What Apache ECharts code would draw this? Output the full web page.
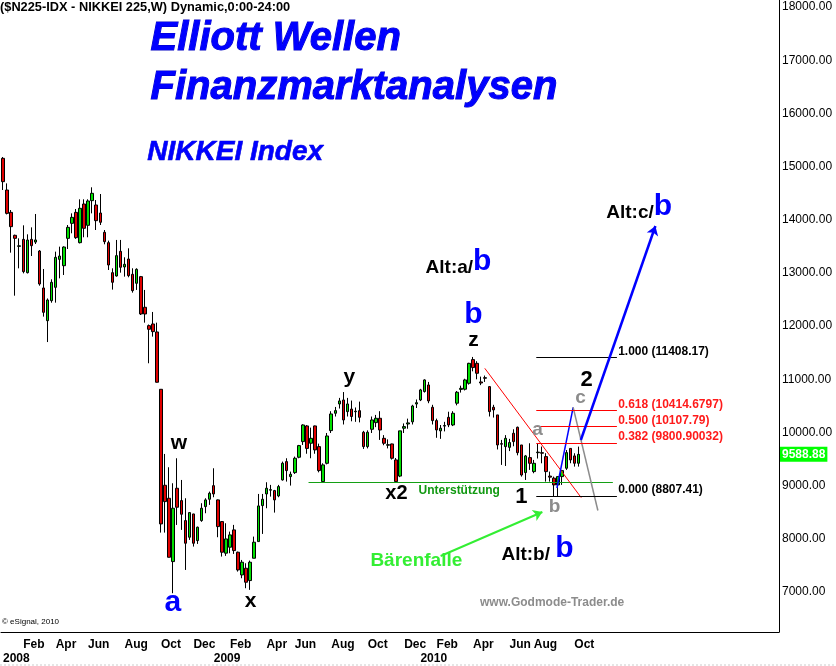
<!DOCTYPE html>
<html><head><meta charset="utf-8">
<script src="https://cdn.jsdelivr.net/npm/echarts@6/dist/echarts.min.js"></script>
<style>html,body{margin:0;padding:0;background:#fff}#c{width:836px;height:666px}</style>
</head><body><div id="c"></div>
<script>
// ---- weekly candles (index = week number from first week of Jan 2008) ----
const opens = [15155,14559,14139,13707,13500,13631,13005,13631,13580,13412,12717,12102,12478,12729,13255,13136,13650,13932,14139,13569,14296,13895,14359,14277,14127,13764,13569,13005,12943,13406,13112,13262,12974,12805,12930,12354,12009,12040,11890,10812,9007,8763,7572,8951,8719,8343,8030,8468,7967,8343,8606,8744,9000,8732,8324,7730,7842,8168,7748,7321,7447,7215,7635,7948,8625,8844,8915,8907,8807,9108,9452,9170,9245,9534,9828,10123,9797,10123,9734,9076,9420,10035,10361,10536,10611,10392,10440,10390,10410,10004,9734,10060,10185,10267,9890,9760,9784,9484,9180,10080,10160,10200,10536,10611,10770,10893,10474,10223,10030,10120,10285,10141,10550,10810,10813,10925,11370,11300,10950,11030,10862,10474,10330,9790,9734,9720,9985,10098,9765,9245,9527,9264,9620,9620,9546,9180,9140,9014,9170,9327,9700,9559,9421];
const closes = [14716,14120,13870,13650,13510,13024,13619,13512,13620,12792,12259,12491,12823,13293,13318,13487,13857,14045,13663,14215,13839,14353,14497,13983,13952,13588,13149,12824,13325,13106,13162,12949,12667,13068,12228,12228,11940,11896,10944,8280,8700,7653,8575,8594,8462,7917,8493,7917,8218,8575,8732,8857,8844,8230,7748,7998,8074,7779,7415,7560,7184,7560,7936,8619,8744,8951,8925,8732,8982,9421,9283,9214,9515,9753,10141,9700,9890,9672,9283,9390,9934,10348,10411,10593,10235,10536,10300,10400,10285,9734,10004,10235,10267,10047,9797,9770,9515,9076,10030,10110,10180,10498,10560,10800,10988,10593,10223,10047,10080,10130,10141,10361,10756,10830,10988,11300,11220,11113,10930,11020,10392,10424,9765,9780,9890,9810,9828,9620,9200,9559,9420,9420,9630,9610,9264,9160,9014,9170,9283,9621,9484,9421,9588.88];
const lows = [14559,14100,13381,12572,13086,12992,12990,13318,13544,12760,12178,11700,12440,12441,12898,12961,13450,13745,13640,13555,13670,13670,14120,13807,13901,13538,13055,12686,12930,13005,12930,12918,12629,12680,12209,12065,11301,11802,10940,8117,8117,7650,6977,8261,8168,7415,7980,7854,7904,8320,8481,8638,8782,8030,7666,7679,7729,7716,7384,7259,7071,7040,7635,7948,8092,8575,8794,8493,8782,9095,9076,9001,9220,9515,9765,9600,9515,9600,9250,9057,9400,9990,10300,10450,10150,10300,10210,10200,10190,9690,9700,9990,10100,9860,9760,9700,9490,9070,9160,9990,10070,10150,10460,10590,10750,10550,10150,9900,9880,10020,10100,10120,10510,10750,10790,10900,11150,11000,10890,10950,10300,10280,9680,9390,9370,9650,9740,9570,9170,9107,9296,9233,9510,9420,9076,9076,8795,8795,9014,9296,9421,9358,9358];
const highs = [15180,14684,14183,13720,13650,13895,13726,13857,14108,13430,13074,12520,12880,13400,13494,13500,13901,14120,14202,14384,14384,14384,14610,14371,14484,13807,13607,13087,13620,13620,13294,13463,13087,13087,12943,12680,12030,12266,12065,10812,9596,9346,9045,9515,9107,8763,8500,8470,8230,8669,8763,8888,9327,8740,8330,8293,8136,8262,7760,7603,7541,7591,8042,8844,8844,9064,9014,8920,9014,9452,9515,9264,9546,9766,10154,10140,10091,10130,9790,9420,9990,10400,10480,10650,10760,10650,10600,10470,10580,10030,10040,10300,10330,10400,9950,9870,9790,9520,10030,10170,10260,10520,10620,10820,11000,10950,10520,10260,10140,10200,10390,10400,10780,10880,11010,11310,11420,11340,11050,11070,10870,10520,10330,9860,9950,9880,10060,10110,9765,9577,9797,9484,9800,9735,9610,9264,9170,9170,9296,9670,9700,9609,9734];
const lastPrice = 9588.88;

// ---- axis tick labels ----
const monthTickIdx  = [5,13,21,30,39,47,56,65,72,81,90,99,107,116,125,131,141];
const monthTickText = ['Feb','Apr','Jun','Aug','Oct','Dec','Feb','Apr','Jun','Aug','Oct','Dec','Feb','Apr','Jun','Aug','Oct'];
const yearTickIdx  = [0,52,103];
const yearTickText = ['2008','2009','2010'];
const priceTicks = [7000,8000,9000,10000,11000,12000,13000,14000,15000,16000,17000,18000];

// ---- Fibonacci retracement ----
const fibRatios = ['1.000','0.618','0.500','0.382','0.000'];
const fibValues = [11408.17,10414.6797,10107.79,9800.90032,8807.41];
const supportLevel = 9063;

const nCats = 192;
const cats = Array.from({length:nCats},(_,i)=>String(i));
const candleData = opens.map((o,i)=>[o,closes[i],lows[i],highs[i]]);

const FONT = '"Liberation Sans", Arial, sans-serif';
const chart = echarts.init(document.getElementById('c'), null, {renderer:'canvas'});

const fibColors = ['#000','#ff0000','#ff0000','#ff0000','#000'];
const lineSegs = [
  {coords:[[75.4,supportLevel],[150.5,supportLevel]], lineStyle:{color:'#14a014',width:1,opacity:1}},
  {coords:[[118.9,11206],[142.7,8773]], lineStyle:{color:'#ff0000',width:1,opacity:1}},
  {coords:[[136.7,8956],[140.7,10473]], lineStyle:{color:'#0000ff',width:1.5,opacity:1}},
  {coords:[[140.7,10473],[146.8,8533]], lineStyle:{color:'#8c8c8c',width:1.5,opacity:1}},
].concat(fibValues.map((v,k)=>({coords:[[131.6,v],[151.5,v]], lineStyle:{color:fibColors[k],width:1,opacity:1}})));

const arrows = [
  {coords:[[142.6,9858],[161,13882]], lineStyle:{color:'#0000ff',width:2.5,opacity:1}},
  {coords:[[108.0,7677],[133.1,8504]], lineStyle:{color:'#33ee33',width:2,opacity:1}},
];

const bold = (size,color)=>({fontSize:size,fontWeight:'bold',color:color,fontFamily:FONT,opacity:1});
const textMarks = [
  {value:[116.1,12209], text:'b', st:bold(30,'#0000ff')},
  {value:[116.1,11739], text:'z', st:bold(21,'#000')},
  {value:[85.5,11043], text:'y', st:bold(21,'#000')},
  {value:[43.4,9802], text:'w', st:bold(21,'#000')},
  {value:[41.9,6793], text:'a', st:bold(30,'#0000ff')},
  {value:[61.1,6831], text:'x', st:bold(21,'#000')},
  {value:[97.1,8862], text:'x2', st:bold(20,'#000')},
  {value:[112.6,8899], text:'Unterstützung', st:bold(12,'#119911')},
  {value:[127.9,8786], text:'1', st:bold(22,'#000')},
  {value:[136.1,8598], text:'b', st:bold(19,'#8c8c8c')},
  {value:[131.9,10046], text:'a', st:bold(19,'#8c8c8c')},
  {value:[142.5,10648], text:'c', st:bold(19,'#8c8c8c')},
  {value:[144.0,10986], text:'2', st:bold(22,'#000')},
  {value:[102.0,7583], text:'Bärenfalle', st:bold(19,'#33ee33')},
];
const richAlt = {k:{fontSize:19,fontWeight:'bold',color:'#000',fontFamily:FONT,verticalAlign:'bottom'},
                 b:{fontSize:30,fontWeight:'bold',color:'#0000ff',fontFamily:FONT,verticalAlign:'bottom'}};
const altMarks = [
  {value:[112.4,13205], text:'{k|Alt:a/}{b|b}'},
  {value:[131.9,7809], text:'{k|Alt:b/ }{b|b}'},
  {value:[157.0,14239], text:'{k|Alt:c/}{b|b}'},
];

const txtSeries = (data)=>({type:'scatter',xAxisIndex:2,yAxisIndex:0,symbolSize:0,silent:true,z:7,
  itemStyle:{opacity:1},emphasis:{disabled:true},data:data});

const option = {
  animation:false,
  backgroundColor:'#fff',
  grid:{left:0,top:0,right:57,bottom:34,containLabel:false},
  xAxis:[
    {type:'category',data:cats,boundaryGap:true,
     axisLine:{show:true,onZero:false,lineStyle:{color:'#000',width:1}},axisTick:{show:false},splitLine:{show:false},
     axisLabel:{interval:(i)=>monthTickIdx.includes(i),
       formatter:(v,i)=>{const k=monthTickIdx.indexOf(i);return k>=0?monthTickText[k]:'';},
       align:'left',margin:7,color:'#000',fontWeight:'bold',fontSize:12,fontFamily:FONT}},
    {type:'category',data:cats,boundaryGap:true,position:'bottom',offset:14,
     axisLine:{show:false,onZero:false},axisTick:{show:false},splitLine:{show:false},
     axisLabel:{interval:(i)=>yearTickIdx.includes(i),
       formatter:(v,i)=>{const k=yearTickIdx.indexOf(i);return k>=0?yearTickText[k]:'';},
       align:'left',margin:7,color:'#000',fontWeight:'bold',fontSize:12,fontFamily:FONT}},
    {type:'value',min:-0.5,max:nCats-0.5,show:false,axisLine:{show:false,onZero:false}}
  ],
  yAxis:{type:'value',position:'right',min:6248,max:18132,
    splitLine:{show:false},axisLine:{show:true,onZero:false,lineStyle:{color:'#000',width:1}},axisTick:{show:false},
    axisLabel:{customValues:priceTicks,formatter:(v)=>v.toFixed(2),margin:3,color:'#000',fontSize:12,fontFamily:FONT}},
  series:[
    {type:'candlestick',xAxisIndex:0,data:candleData,barWidth:3,
     itemStyle:{color:'#00e000',color0:'#e00000',borderColor:'#000',borderColor0:'#000',borderColorDoji:'#000',borderWidth:1}},
    {type:'lines',coordinateSystem:'cartesian2d',xAxisIndex:2,yAxisIndex:0,silent:true,
     symbol:'none',data:lineSegs,z:5},
    {type:'lines',coordinateSystem:'cartesian2d',xAxisIndex:2,yAxisIndex:0,silent:true,
     symbol:['none','arrow'],symbolSize:9,data:arrows,z:6},
    txtSeries(textMarks.map(m=>({value:m.value,label:Object.assign({show:true,position:'inside',formatter:m.text},m.st)}))),
    txtSeries(altMarks.map(m=>({value:m.value,label:{show:true,position:'inside',formatter:m.text,rich:richAlt,opacity:1}}))),
    txtSeries(fibValues.map((v,k)=>({value:[151.8,v],label:{show:true,position:[0,0],align:'left',verticalAlign:'bottom',opacity:1,
        formatter:fibRatios[k]+' ('+v+')',fontSize:12,fontFamily:FONT,fontWeight:'bold',color:fibColors[k]==='#000'?'#000':'#ff1a1a'}}))),
    txtSeries([{value:[nCats-0.5,lastPrice],label:{show:true,position:'right',distance:1,opacity:1,
        formatter:lastPrice.toFixed(2),backgroundColor:'#00ff00',color:'#fff',fontWeight:'bold',fontSize:12,fontFamily:FONT,padding:[2,2,1,2]}}]),
  ],
  graphic:[
    {type:'text',left:0,top:1,style:{text:'($N225-IDX - NIKKEI 225,W) Dynamic,0:00-24:00',font:'bold 12.8px '+FONT,fill:'#000'}},
    {type:'text',left:150,top:18,style:{text:'Elliott Wellen',font:'italic bold 40px '+FONT,fill:'#0000ff',stroke:'#0000c0',lineWidth:1}},
    {type:'text',left:150,top:67,style:{text:'Finanzmarktanalysen',font:'italic bold 40px '+FONT,fill:'#0000ff',stroke:'#0000c0',lineWidth:1}},
    {type:'text',left:147,top:138,style:{text:'NIKKEI Index',font:'italic bold 28px '+FONT,fill:'#0000ff',stroke:'#0000c0',lineWidth:0.6}},
    {type:'text',left:480,top:597,style:{text:'www.Godmode-Trader.de',font:'bold 12px '+FONT,fill:'#8c8c8c'}},
    {type:'text',left:2,top:618,style:{text:'© eSignal, 2010',font:'8px '+FONT,fill:'#000'}},
    {type:'line',shape:{x1:0,y1:665,x2:836,y2:665},style:{stroke:'#cccccc',lineDash:[2,2],lineWidth:1}},
  ]
};
chart.setOption(option);
</script></body></html>
